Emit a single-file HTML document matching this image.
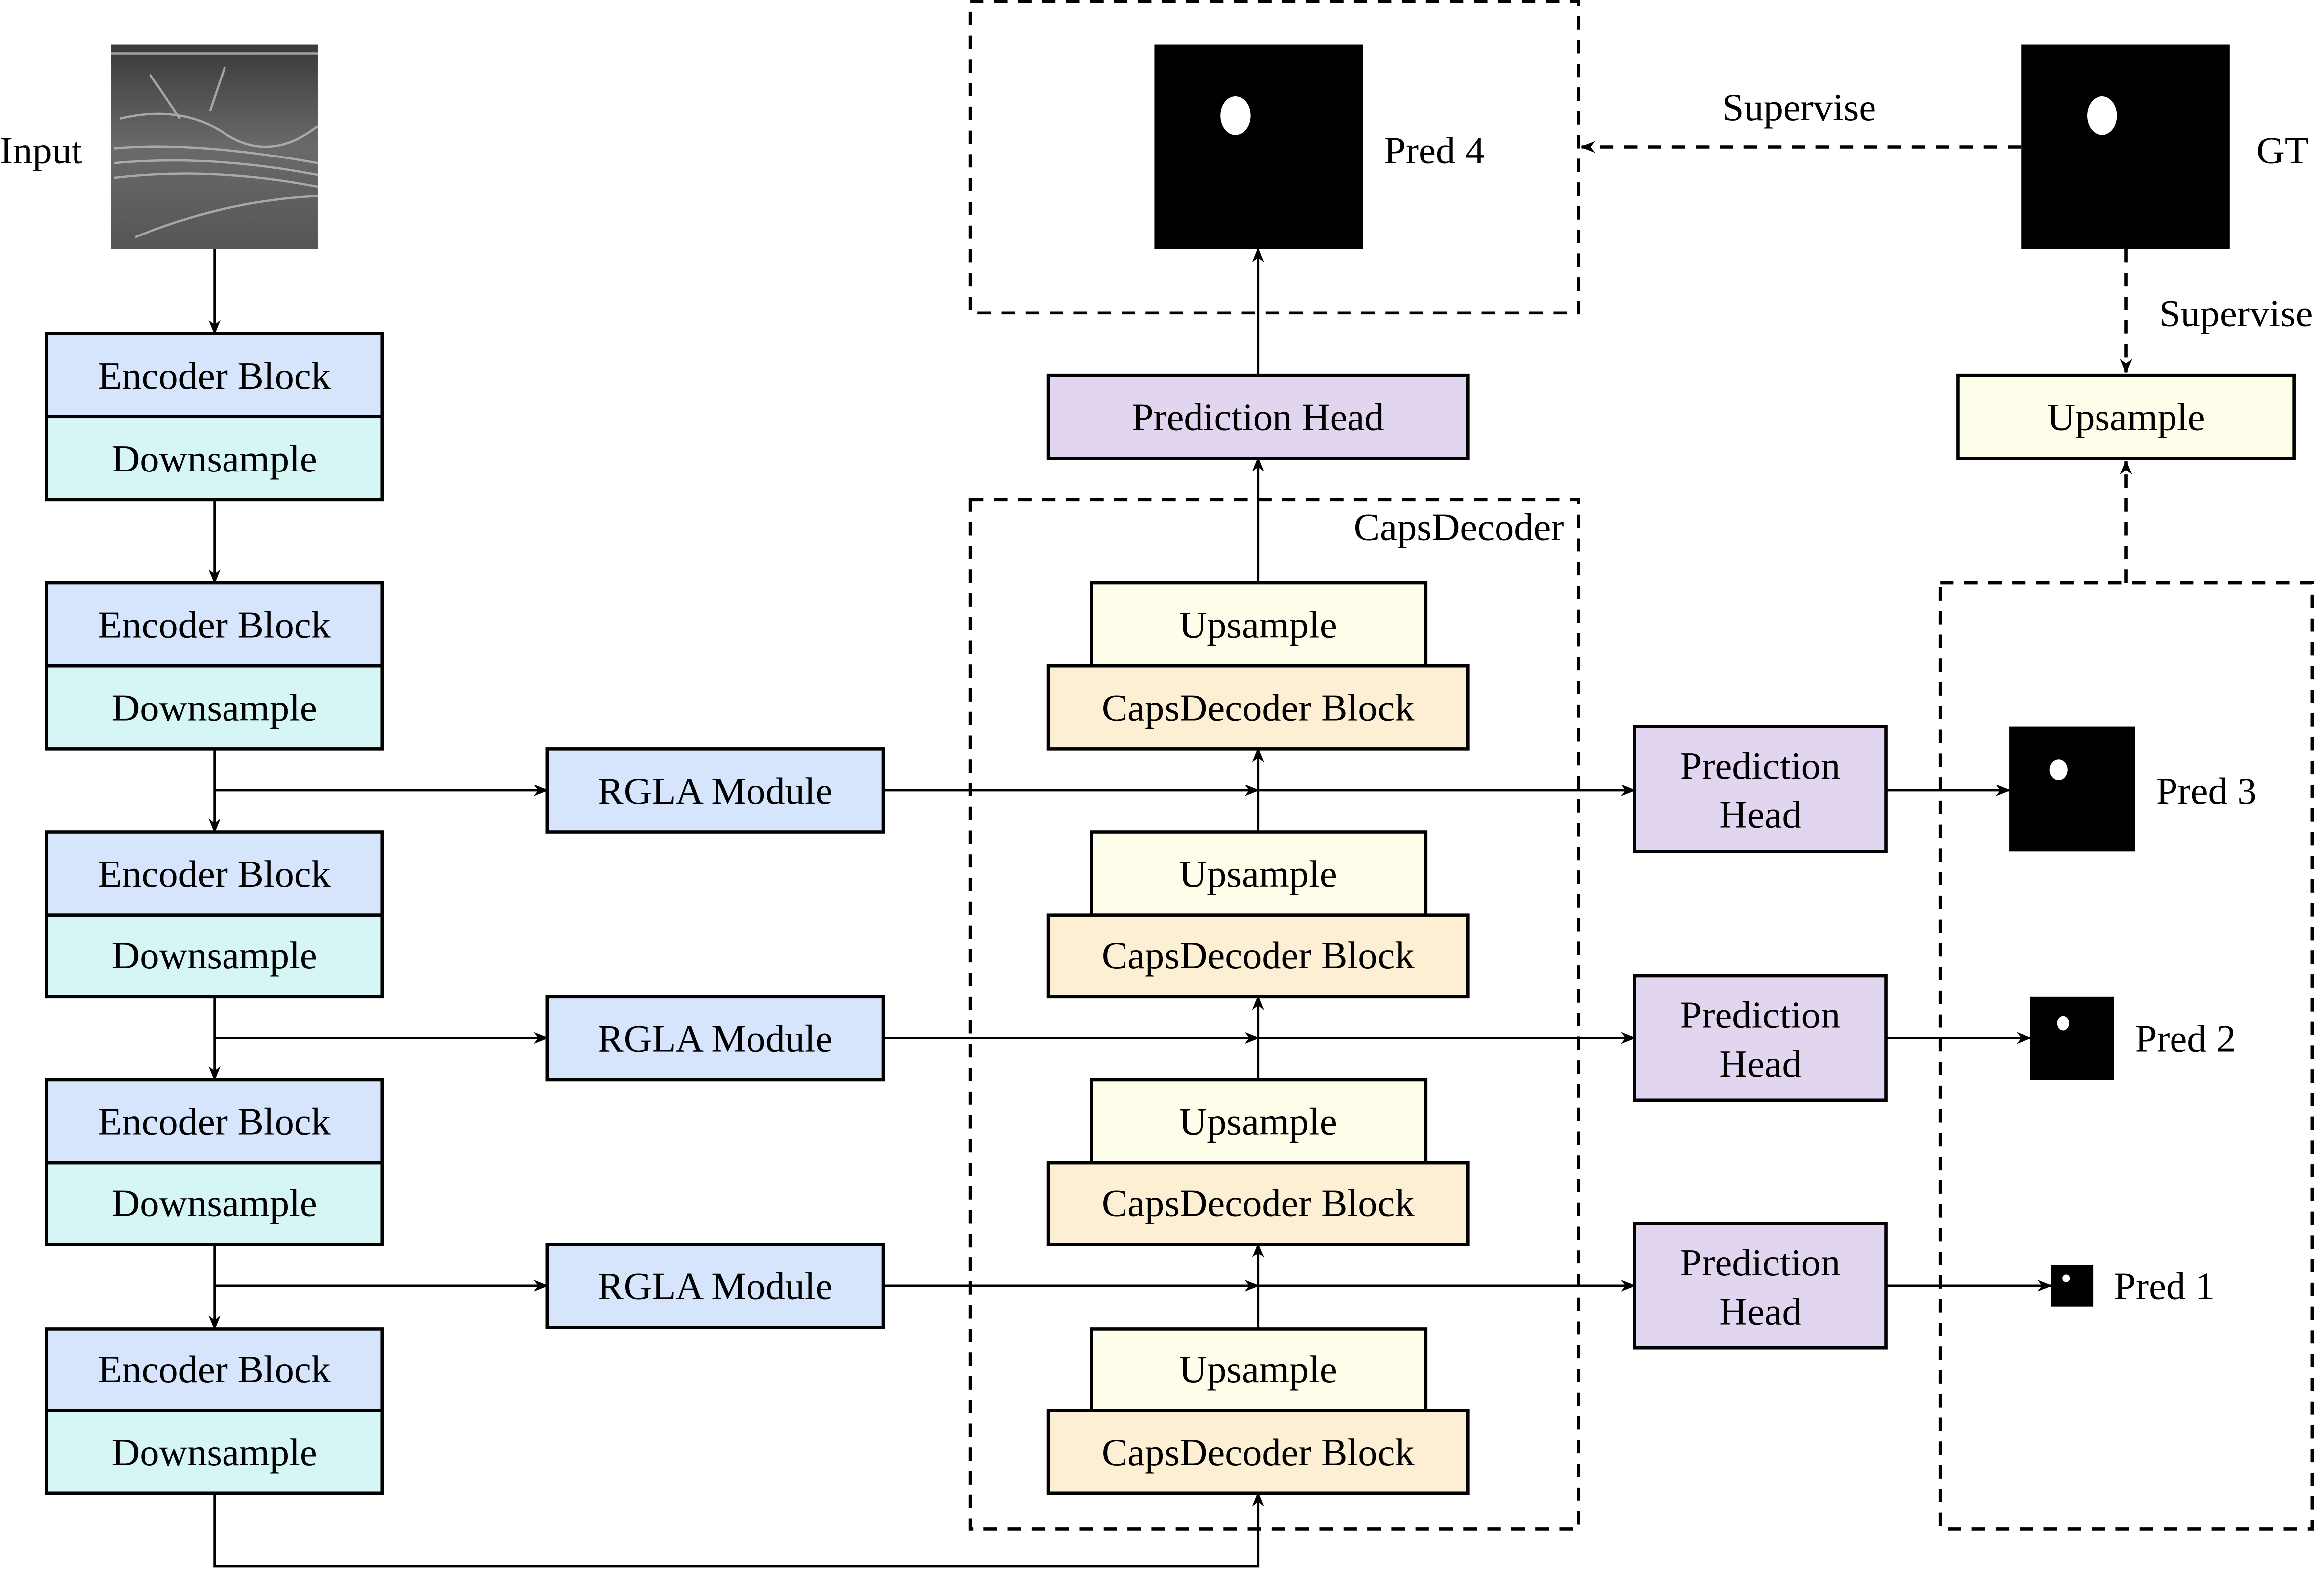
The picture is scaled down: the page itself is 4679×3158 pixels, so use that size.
<!DOCTYPE html>
<html><head><meta charset="utf-8"><style>html,body{margin:0;padding:0;background:#fff}svg{display:block}</style></head><body>
<svg xmlns="http://www.w3.org/2000/svg" width="4679" height="3158" viewBox="0 0 1550 1058" preserveAspectRatio="none">
<defs>
<marker id="a" markerWidth="10" markerHeight="8" refX="9" refY="4" orient="auto" markerUnits="userSpaceOnUse"><path d="M0,0 L10,4 L0,8 L3,4 Z" fill="#000"/></marker>
<linearGradient id="us" x1="0" y1="0" x2="0" y2="1"><stop offset="0" stop-color="#3a3a3a"/><stop offset="0.5" stop-color="#6a6a6a"/><stop offset="1" stop-color="#555"/></linearGradient>
</defs>
<style>
text{font-family:"Liberation Serif",serif;font-size:26px;fill:#000}
.b{stroke:#000;stroke-width:2.2}
.l{stroke:#000;stroke-width:1.6;fill:none}
.d{stroke:#000;stroke-width:2.2;fill:none;stroke-dasharray:9,7}
</style>
<rect x="74" y="30" width="138" height="138" fill="url(#us)"/>
<g stroke="#bbb" stroke-width="1.5" fill="none" opacity="0.8">
<path d="M74,36 H212"/><path d="M80,80 Q120,70 150,90 T212,85"/><path d="M76,100 Q130,95 212,110"/><path d="M76,110 Q140,104 212,118"/><path d="M76,120 Q140,112 212,126"/><path d="M90,160 Q150,135 212,132"/><path d="M100,50 L120,80 M150,45 L140,75"/>
</g>
<text x="0" y="110">Input</text>
<g class="b">
<rect x="31" y="225" width="224" height="56" fill="#d6e4fc"/><rect x="31" y="281" width="224" height="56" fill="#d5f6f4"/>
<rect x="31" y="393" width="224" height="56" fill="#d6e4fc"/><rect x="31" y="449" width="224" height="56" fill="#d5f6f4"/>
<rect x="31" y="561" width="224" height="56" fill="#d6e4fc"/><rect x="31" y="617" width="224" height="55" fill="#d5f6f4"/>
<rect x="31" y="728" width="224" height="56" fill="#d6e4fc"/><rect x="31" y="784" width="224" height="55" fill="#d5f6f4"/>
<rect x="31" y="896" width="224" height="55" fill="#d6e4fc"/><rect x="31" y="951" width="224" height="56" fill="#d5f6f4"/>
</g>
<g text-anchor="middle">
<text x="143" y="262">Encoder Block</text><text x="143" y="318">Downsample</text>
<text x="143" y="430">Encoder Block</text><text x="143" y="486">Downsample</text>
<text x="143" y="598">Encoder Block</text><text x="143" y="653">Downsample</text>
<text x="143" y="765">Encoder Block</text><text x="143" y="820">Downsample</text>
<text x="143" y="932">Encoder Block</text><text x="143" y="988">Downsample</text>
</g>
<g class="l" marker-end="url(#a)">
<path d="M143,168 V225"/><path d="M143,337 V393"/><path d="M143,505 V561"/><path d="M143,672 V728"/><path d="M143,839 V896"/>
<path d="M143,1007 V1056 H839 V1007"/>
<path d="M143,533 H365"/><path d="M143,700 H365"/><path d="M143,867 H365"/>
<path d="M589,533 H839"/><path d="M589,700 H839"/><path d="M589,867 H839"/>
<path d="M839,533 H1090"/><path d="M839,700 H1090"/><path d="M839,867 H1090"/>
<path d="M839,561 V505"/><path d="M839,728 V672"/><path d="M839,896 V839"/>
<path d="M839,393 V309"/><path d="M839,253 V168"/>
<path d="M1258,533 H1340"/><path d="M1258,700 H1354"/><path d="M1258,867 H1368"/>
</g>
<g class="b" fill="#d6e4fc">
<rect x="365" y="505" width="224" height="56"/><rect x="365" y="672" width="224" height="56"/><rect x="365" y="839" width="224" height="56"/>
</g>
<g text-anchor="middle"><text x="477" y="542">RGLA Module</text><text x="477" y="709">RGLA Module</text><text x="477" y="876">RGLA Module</text></g>
<rect x="647" y="337" width="406" height="694" class="d"/>
<text x="1043" y="364" text-anchor="end">CapsDecoder</text>
<g class="b">
<rect x="728" y="393" width="223" height="56" fill="#fefde9"/><rect x="699" y="449" width="280" height="56" fill="#fdefd4"/>
<rect x="728" y="561" width="223" height="56" fill="#fefde9"/><rect x="699" y="617" width="280" height="55" fill="#fdefd4"/>
<rect x="728" y="728" width="223" height="56" fill="#fefde9"/><rect x="699" y="784" width="280" height="55" fill="#fdefd4"/>
<rect x="728" y="896" width="223" height="55" fill="#fefde9"/><rect x="699" y="951" width="280" height="56" fill="#fdefd4"/>
</g>
<g text-anchor="middle">
<text x="839" y="430">Upsample</text><text x="839" y="486">CapsDecoder Block</text>
<text x="839" y="598">Upsample</text><text x="839" y="653">CapsDecoder Block</text>
<text x="839" y="765">Upsample</text><text x="839" y="820">CapsDecoder Block</text>
<text x="839" y="932">Upsample</text><text x="839" y="988">CapsDecoder Block</text>
</g>
<rect x="699" y="253" width="280" height="56" class="b" fill="#e2d5ef"/>
<text x="839" y="290" text-anchor="middle">Prediction Head</text>
<rect x="647" y="1" width="406" height="210" class="d"/>
<rect x="770" y="30" width="139" height="138" fill="#000"/>
<ellipse cx="824" cy="78" rx="10" ry="13" fill="#fff"/>
<text x="923" y="110">Pred 4</text>
<rect x="1348" y="30" width="139" height="138" fill="#000"/>
<ellipse cx="1402" cy="78" rx="10" ry="13" fill="#fff"/>
<text x="1505" y="110">GT</text>
<path d="M1348,99 H1055" class="d" marker-end="url(#a)"/>
<text x="1200" y="81" text-anchor="middle">Supervise</text>
<path d="M1418,168 V251" class="d" marker-end="url(#a)"/>
<text x="1440" y="220">Supervise</text>
<rect x="1306" y="253" width="224" height="56" class="b" fill="#fefde9"/>
<text x="1418" y="290" text-anchor="middle">Upsample</text>
<path d="M1418,393 V311" class="d" marker-end="url(#a)"/>
<rect x="1294" y="393" width="248" height="638" class="d"/>
<g class="b" fill="#e2d5ef">
<rect x="1090" y="490" width="168" height="84"/><rect x="1090" y="658" width="168" height="84"/><rect x="1090" y="825" width="168" height="84"/>
</g>
<g text-anchor="middle">
<text x="1174" y="525">Prediction</text><text x="1174" y="558">Head</text>
<text x="1174" y="693">Prediction</text><text x="1174" y="726">Head</text>
<text x="1174" y="860">Prediction</text><text x="1174" y="893">Head</text>
</g>
<rect x="1340" y="490" width="84" height="84" fill="#000"/><ellipse cx="1373" cy="519" rx="6" ry="7" fill="#fff"/>
<text x="1438" y="542">Pred 3</text>
<rect x="1354" y="672" width="56" height="56" fill="#000"/><ellipse cx="1376" cy="690" rx="4" ry="5" fill="#fff"/>
<text x="1424" y="709">Pred 2</text>
<rect x="1368" y="853" width="28" height="28" fill="#000"/><circle cx="1378" cy="862" r="2.5" fill="#fff"/>
<text x="1410" y="876">Pred 1</text>
</svg>
</body></html>
